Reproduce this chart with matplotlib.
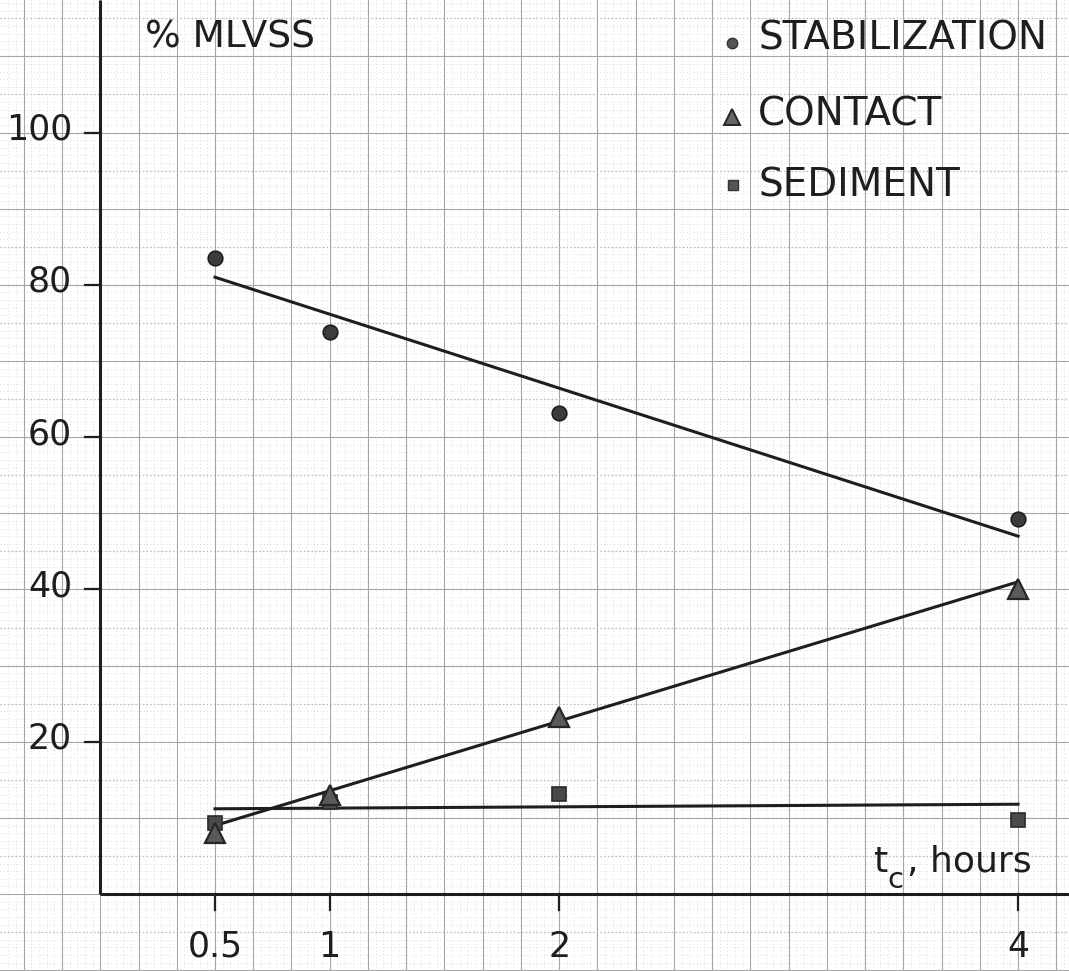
import numpy as np
import matplotlib
matplotlib.use("Agg")
import matplotlib.pyplot as plt

# contact time, hours
t_c = [0.5, 1, 2, 4]

# % of MLVSS in each fraction
stabilization = [83.5, 73.8, 63.2, 49.2]
contact = [8.0, 13.0, 23.2, 40.0]
sediment = [9.3, 12.1, 13.2, 9.7]

# hand-drawn trend lines (values at t = 0.5 and t = 4)
fit_t = [0.5, 4]
stabilization_fit = [81.0, 47.0]
contact_fit = [9.0, 41.0]
sediment_fit = [11.2, 11.8]

x_ticks = [0.5, 1, 2, 4]
x_tick_labels = ["0.5", "1", "2", "4"]
y_ticks = [20, 40, 60, 80, 100]

INK = "#1e1e1e"
plt.rcParams["font.family"] = "DejaVu Sans"

fig = plt.figure(figsize=(10.69, 9.71), dpi=100)
ax = fig.add_axes([0, 0, 1, 1])
ax.set_xlim(-0.437, 4.222)
ax.set_ylim(-10.1, 117.4)
ax.axis("off")

# graph paper: fine dotted mm lines, solid 5 mm lines
for gx in np.arange(-0.4, 4.25, 1 / 30):
    ax.axvline(gx, color="#d4d4d4", lw=0.6, ls=(0, (1, 3)), zorder=0)
for gy in np.arange(-10, 118, 1):
    ax.axhline(gy, color="#d4d4d4", lw=0.6, ls=(0, (1, 3)), zorder=0)
for gx in np.arange(-2, 26) / 6:
    ax.axvline(gx, color="#a6a6a6", lw=0.8, zorder=0.5)
for gy in np.arange(-10, 118, 10):
    ax.axhline(gy, color="#a6a6a6", lw=0.8, zorder=0.5)
for gy in np.arange(-5, 118, 10):
    ax.axhline(gy, color="#b4b4b4", lw=0.9, ls=(0, (1, 2)), zorder=0.5)

# axes
ax.plot([0, 0], [0, 117.4], color=INK, lw=2.2, zorder=2, solid_capstyle="butt")
ax.plot([0, 4.222], [0, 0], color=INK, lw=2.2, zorder=2, solid_capstyle="butt")

for yt in y_ticks:
    ax.plot([-0.067, 0], [yt, yt], color=INK, lw=1.6, zorder=2)
    ax.text(-0.123, yt + 0.4, str(yt), ha="right", va="center",
            fontsize=25, color=INK)
for xt, lab in zip(x_ticks, x_tick_labels):
    ax.plot([xt, xt], [0, -2.1], color=INK, lw=1.6, zorder=2)
    ax.text(xt, -6.9, lab, ha="center", va="center", fontsize=25, color=INK)

ax.text(0.195, 112.5, "% MLVSS", ha="left", va="center", fontsize=27, color=INK)

# x-axis title: t with a lowered subscript c
ax.text(3.372, 4.2, "t", ha="left", va="center", fontsize=26, color=INK)
ax.text(3.432, 1.9, "c", ha="left", va="center", fontsize=21, color=INK)
ax.text(3.515, 4.2, ", hours", ha="left", va="center", fontsize=26, color=INK)

# trend lines
ax.plot(fit_t, stabilization_fit, color=INK, lw=2.2, zorder=3)
ax.plot(fit_t, contact_fit, color=INK, lw=2.2, zorder=3)
ax.plot(fit_t, sediment_fit, color=INK, lw=2.2, zorder=3)

# measured points
ax.plot(t_c, sediment, ls="none", marker="s", ms=10.5, mfc="#4a4a4a",
        mec="#2a2a2a", mew=1.2, zorder=4)
ax.plot(t_c, contact, ls="none", marker="^", ms=14, mfc="#5a5a5a",
        mec="#262626", mew=1.6, zorder=5)
ax.plot(t_c, stabilization, ls="none", marker="o", ms=10.5, mfc="#3c3c3c",
        mec="#1e1e1e", mew=1.2, zorder=5)

# key
ax.plot(2.754, 111.75, marker="o", ms=7.5, mfc="#555555", mec="#333333", mew=1, zorder=5)
ax.plot(2.754, 102.0, marker="^", ms=12, mfc="#666666", mec="#262626", mew=1.4, zorder=5)
ax.plot(2.757, 93.1, marker="s", ms=7.5, mfc="#555555", mec="#333333", mew=1, zorder=5)
ax.text(2.867, 112.3, "STABILIZATION", ha="left", va="center", fontsize=28, color=INK)
ax.text(2.867, 102.3, "CONTACT", ha="left", va="center", fontsize=28, color=INK)
ax.text(2.867, 93.1, "SEDIMENT", ha="left", va="center", fontsize=28, color=INK)

fig.savefig("out.png", dpi=100, facecolor="white")
